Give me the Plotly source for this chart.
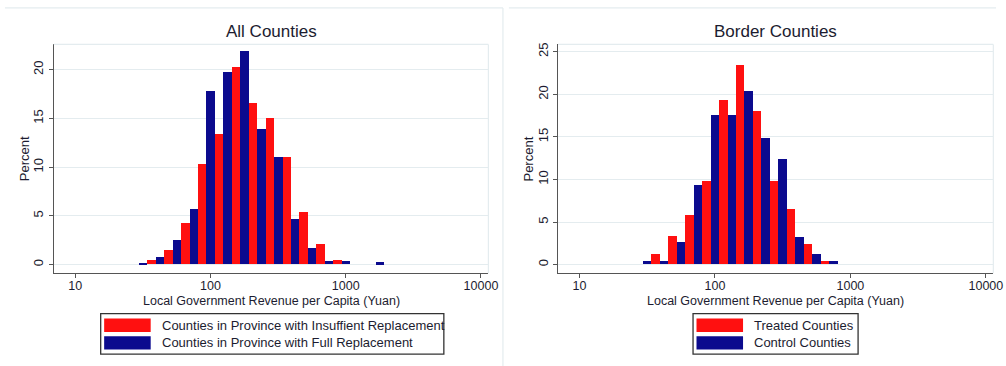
import plotly.graph_objects as go

# Bin midpoints on a log10 scale (each bin spans 0.125 decades, split into two half-width bars)
all_full_bins = [1.5, 1.625, 1.75, 1.875, 2.0, 2.125, 2.25, 2.375, 2.5, 2.625, 2.75, 2.875, 3.0, 3.125, 3.25]
all_full_pct = [0.13, 0.68, 2.45, 5.69, 17.75, 19.73, 21.9, 13.9, 10.97, 4.6, 1.7, 0.27, 0.27, 0.0, 0.17]
all_insuff_bins = [1.5625, 1.6875, 1.8125, 1.9375, 2.0625, 2.1875, 2.3125, 2.4375, 2.5625, 2.6875, 2.8125, 2.9375]
all_insuff_pct = [0.41, 1.46, 4.19, 10.32, 13.36, 20.24, 16.52, 14.99, 10.97, 5.38, 2.04, 0.41]

border_control_bins = [1.5, 1.625, 1.75, 1.875, 2.0, 2.125, 2.25, 2.375, 2.5, 2.625, 2.75, 2.875]
border_control_pct = [0.39, 0.39, 2.65, 9.31, 17.52, 17.52, 20.29, 14.8, 12.38, 3.19, 1.17, 0.39]
border_treated_bins = [1.5625, 1.6875, 1.8125, 1.9375, 2.0625, 2.1875, 2.3125, 2.4375, 2.5625, 2.6875, 2.8125]
border_treated_pct = [1.17, 3.27, 5.76, 9.77, 19.28, 23.44, 18.03, 9.77, 6.5, 2.42, 0.39]

x_tickvals = [1, 2, 3, 4]
x_ticktext = ["10", "100", "1000", "10000"]
left_yticks = [0, 5, 10, 15, 20]
right_yticks = [0, 5, 10, 15, 20, 25]

panel_titles = ["All Counties", "Border Counties"]
x_title = "Local Government Revenue per Capita (Yuan)"
y_title = "Percent"
left_legend = ["Counties in Province with Insuffient Replacement",
               "Counties in Province with Full Replacement"]
right_legend = ["Treated Counties", "Control Counties"]

RED = "#ff1010"
NAVY = "#0b0a8e"
TEXT = "#1c1c30"
GRID = "#e4ecef"
AXIS = "#555555"
FONT = "Arial, 'Liberation Sans', sans-serif"

W, H = 1006, 366
BAR_W = 0.0625


def px(x):
    return x / W


def py(y):
    return 1 - y / H


fig = go.Figure()

fig.add_trace(go.Bar(x=all_insuff_bins, y=all_insuff_pct, width=BAR_W, marker_color=RED,
                     marker_line_width=0, xaxis="x", yaxis="y", showlegend=False))
fig.add_trace(go.Bar(x=all_full_bins, y=all_full_pct, width=BAR_W, marker_color=NAVY,
                     marker_line_width=0, xaxis="x", yaxis="y", showlegend=False))
fig.add_trace(go.Bar(x=border_treated_bins, y=border_treated_pct, width=BAR_W, marker_color=RED,
                     marker_line_width=0, xaxis="x2", yaxis="y2", showlegend=False))
fig.add_trace(go.Bar(x=border_control_bins, y=border_control_pct, width=BAR_W, marker_color=NAVY,
                     marker_line_width=0, xaxis="x2", yaxis="y2", showlegend=False))

# Plot-area extents in pixels
left_area = (54.3, 493.3)
right_area = (563.7, 1003.3)
area_top, area_bot = 42.7, 272.7


def xaxis_cfg(area, anchor):
    return dict(domain=[px(area[0]), px(area[1])], range=[0.842, 4.055], anchor=anchor,
                tickmode="array", tickvals=x_tickvals, ticktext=x_ticktext,
                showgrid=False, zeroline=False, showline=True, linecolor=AXIS, linewidth=1.4,
                ticks="outside", ticklen=4, tickcolor=AXIS, tickwidth=1,
                ticklabelstandoff=-3,
                tickfont=dict(family=FONT, size=12.5, color=TEXT))


def yaxis_cfg(rng, ticks, anchor):
    return dict(domain=[py(area_bot), py(area_top)], range=rng, anchor=anchor,
                tickmode="array", tickvals=ticks, tickangle=-90,
                showgrid=True, gridcolor=GRID, gridwidth=1, zeroline=False,
                showline=True, linecolor=AXIS, linewidth=1.4,
                ticks="outside", ticklen=4, tickcolor=AXIS, tickwidth=1,
                tickfont=dict(family=FONT, size=13, color=TEXT))


shapes = []
annotations = []

# Light outlines: top and right edges of each plot area, and panel frames
for xr, yr in (("x domain", "y domain"), ("x2 domain", "y2 domain")):
    shapes.append(dict(type="line", xref=xr, yref=yr, x0=0, x1=1, y0=1, y1=1,
                       line=dict(color=GRID, width=1.2)))
    shapes.append(dict(type="line", xref=xr, yref=yr, x0=1, x1=1, y0=0, y1=1,
                       line=dict(color=GRID, width=1.2)))

shapes.append(dict(type="line", xref="paper", yref="paper", x0=px(5), x1=px(508),
                   y0=py(6), y1=py(6), line=dict(color=GRID, width=1.2)))
shapes.append(dict(type="line", xref="paper", yref="paper", x0=px(508), x1=px(508),
                   y0=py(6), y1=0, line=dict(color=GRID, width=1.2)))
shapes.append(dict(type="line", xref="paper", yref="paper", x0=px(514), x1=1,
                   y0=py(6), y1=py(6), line=dict(color=GRID, width=1.2)))

# Titles and axis titles
for area, title in ((left_area, panel_titles[0]), (right_area, panel_titles[1])):
    cx = (area[0] + area[1]) / 2
    annotations.append(dict(xref="paper", yref="paper", x=px(cx), y=py(30), text=title,
                            showarrow=False, xanchor="center", yanchor="middle",
                            font=dict(family=FONT, size=17, color=TEXT)))
    annotations.append(dict(xref="paper", yref="paper", x=px(cx), y=py(300.5), text=x_title,
                            showarrow=False, xanchor="center", yanchor="middle",
                            font=dict(family=FONT, size=12.5, color=TEXT)))
    annotations.append(dict(xref="paper", yref="paper", x=px(area[0] - 29.5), y=py(157.5),
                            text=y_title, textangle=-90, showarrow=False,
                            xanchor="center", yanchor="middle",
                            font=dict(family=FONT, size=13, color=TEXT)))


def legend_box(x0, x1, labels):
    y0, y1 = 313.3, 354.0
    shapes.append(dict(type="rect", xref="paper", yref="paper", x0=px(x0), x1=px(x1),
                       y0=py(y1), y1=py(y0), line=dict(color="#333333", width=1.3),
                       fillcolor="white"))
    rows = [(318.3, 331.7, RED), (336.0, 349.3, NAVY)]
    for (r0, r1, col), lab in zip(rows, labels):
        shapes.append(dict(type="rect", xref="paper", yref="paper",
                           x0=px(x0 + 3.5), x1=px(x0 + 50.5), y0=py(r1), y1=py(r0),
                           line=dict(width=0), fillcolor=col))
        annotations.append(dict(xref="paper", yref="paper", x=px(x0 + 60), y=py((r0 + r1) / 2),
                                text=lab, showarrow=False, xanchor="left", yanchor="middle",
                                font=dict(family=FONT, size=13, color=TEXT)))


legend_box(101.7, 448.3, left_legend)
legend_box(700.0, 866.7, right_legend)

fig.update_layout(
    width=W, height=H,
    margin=dict(l=0, r=0, t=0, b=0),
    paper_bgcolor="white", plot_bgcolor="white",
    barmode="overlay", bargap=0,
    xaxis=xaxis_cfg(left_area, "y"),
    yaxis=yaxis_cfg([-0.89, 22.6], left_yticks, "x"),
    xaxis2=xaxis_cfg(right_area, "y2"),
    yaxis2=yaxis_cfg([-1.01, 25.86], right_yticks, "x2"),
    shapes=shapes,
    annotations=annotations,
    showlegend=False,
)

fig.write_html("out.html")
